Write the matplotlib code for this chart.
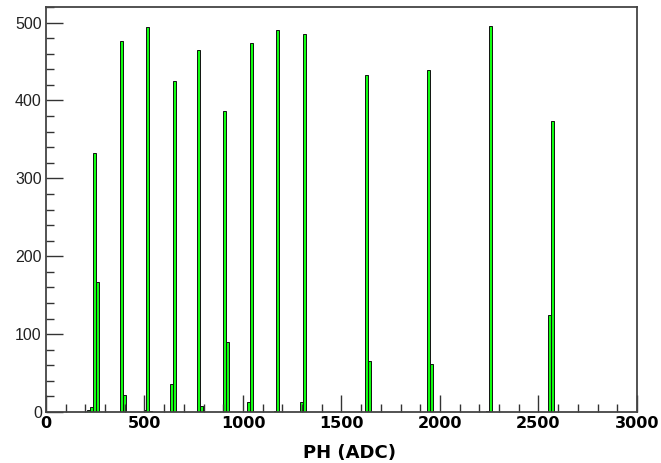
import numpy as np
import matplotlib.pyplot as plt
from matplotlib.ticker import MultipleLocator

# histogram contents (bin lower edge in ADC, counts); bin width 15 ADC
bin_width = 15
bin_edges = [210, 225, 240, 255,
             375, 390,
             495, 510, 525,
             630, 645,
             765, 780,
             900, 915,
             1020, 1035,
             1155, 1170,
             1290, 1305,
             1620, 1635,
             1935, 1950,
             2235, 2250,
             2550, 2565]
counts = [3, 7, 332, 167,
          476, 22,
          3, 494, 2,
          36, 425,
          465, 8,
          387, 90,
          13, 474,
          2, 491,
          13, 485,
          433, 66,
          439, 62,
          2, 496,
          125, 374]

fig = plt.figure(figsize=(6.61, 4.63), dpi=100)
ax = fig.add_axes([0.0696, 0.110, 0.894, 0.875])

ax.bar(bin_edges, counts, width=bin_width, align='edge',
       color='#11ff11', edgecolor='#111111', linewidth=0.7)

ax.set_xlim(0, 3000)
ax.set_ylim(0, 520)

ax.xaxis.set_major_locator(MultipleLocator(500))
ax.xaxis.set_minor_locator(MultipleLocator(100))
ax.yaxis.set_major_locator(MultipleLocator(100))
ax.yaxis.set_minor_locator(MultipleLocator(20))

ax.tick_params(axis='both', which='both', direction='in', top=False, right=False, color='#333333')
ax.tick_params(axis='both', which='major', length=12, width=1)
ax.tick_params(axis='both', which='minor', length=6, width=1)
ax.tick_params(axis='x', pad=3)
ax.tick_params(axis='y', pad=3)

for lbl in ax.get_xticklabels():
    lbl.set_fontfamily('DejaVu Sans')
    lbl.set_fontweight('bold')
    lbl.set_fontsize(11.5)
for lbl in ax.get_yticklabels():
    lbl.set_fontfamily('Liberation Sans')
    lbl.set_fontsize(11.5)
    lbl.set_color('#222222')

for s in ax.spines.values():
    s.set_color('#444444')
    s.set_linewidth(1.3)

ax.set_xlabel('PH (ADC)', fontsize=13, fontweight='bold', family='DejaVu Sans')
ax.xaxis.set_label_coords(0.514, -0.078)

fig.savefig('out.png', dpi=100)
